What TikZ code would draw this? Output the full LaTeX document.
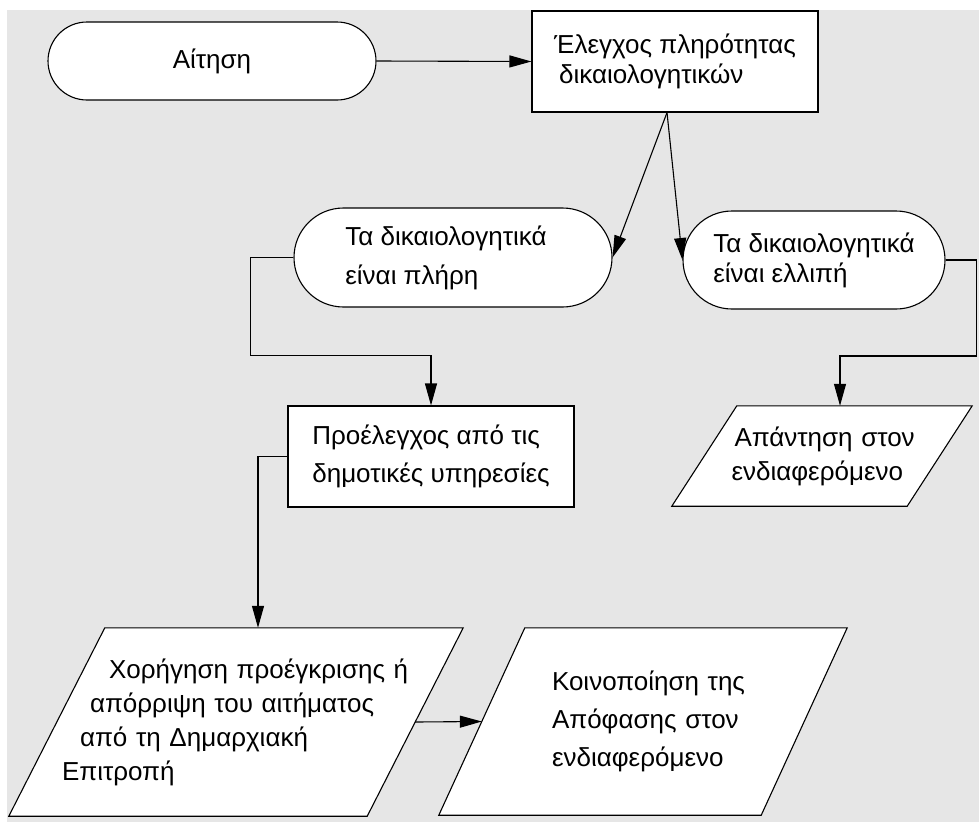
\documentclass[tikz,border=0pt]{standalone}
\usepackage{fontspec}
\setmainfont{Liberation Sans}
\usetikzlibrary{positioning, arrows.meta, shapes.misc, backgrounds}
\definecolor{panelbg}{HTML}{E6E6E6}

\begin{document}
\begin{tikzpicture}[
    x=1pt, y=-1pt,
    terminal/.style={
        rounded rectangle, draw=black, fill=white, line width=1.1pt,
        inner sep=0pt, align=left, font=\fontsize{26}{#1}\selectfont
    },
    procbox/.style={
        rectangle, draw=black, fill=white, line width=1.1pt,
        minimum width=286pt, minimum height=101pt, inner sep=0pt,
        align=left, font=\fontsize{26}{#1}\selectfont
    },
    iotext/.style={
        rectangle, inner sep=0pt,
        align=left, font=\fontsize{26}{#1}\selectfont
    },
    ioshape/.style={
        draw=black, fill=white, line width=1.1pt, line join=miter
    },
    flow/.style={
        -{Triangle[length=22pt, width=12pt]}, line width=1.1pt
    }
]

% Page and grey panel
\useasboundingbox (0,0) rectangle (979,822);
\begin{scope}[on background layer]
    \fill[panelbg] (7,10) rectangle (979,822);
\end{scope}

% -- Top row: request and completeness check --
\node[terminal=30, minimum width=328pt, minimum height=78pt] (aitisi) at (212,61) {Αίτηση};
\node[procbox=30] (elegxos) at (675,61.5) {Έλεγχος πληρότητας\\\hspace*{5pt}δικαιολογητικών};

% -- Outcomes of the check --
\node[terminal=39, minimum width=318pt, minimum height=99pt] (plires) at (453,257.5)
    {Τα δικαιολογητικά\hspace*{14pt}\\είναι πλήρη};
\node[terminal=30, minimum width=262pt, minimum height=98pt] (elliph) at (814,260)
    {Τα δικαιολογητικά\\είναι ελλιπή};

% -- Middle row --
\node[procbox=38] (proelegxos) at (431,456.5) {Προέλεγχος από τις\\δημοτικές υπηρεσίες};
% parallelogram body 235 wide, slant 65
\node[iotext=34, minimum width=235pt, minimum height=100pt, text width=235pt] (apantisi) at (822,456)
    {\hspace*{30pt}Απάντηση στον\\\hspace*{27pt}ενδιαφερόμενο};

% -- Bottom row: decision and notification --
% parallelogram body 358 wide, slant 96
\node[iotext=34, minimum width=358pt, minimum height=188pt, text width=358pt] (xorigisi) at (236,722)
    {\hspace*{52pt}Χορήγηση προέγκρισης ή\\\hspace*{33pt}απόρριψη του αιτήματος\\\hspace*{23pt}από τη Δημαρχιακή\\\hspace*{5pt}Επιτροπή};
% parallelogram body 322 wide, slant 86
\node[iotext=38, minimum width=322pt, minimum height=187pt, text width=322pt] (koinop) at (643,721.5)
    {\hspace*{70pt}Κοινοποίηση της\\\hspace*{70pt}Απόφασης στον\\\hspace*{70pt}ενδιαφερόμενο};

% Parallelogram outlines, behind their texts
\begin{scope}[on background layer]
    \draw[ioshape] ([xshift=-32.5pt]apantisi.south west) -- ([xshift=32.5pt]apantisi.north west)
        -- ([xshift=32.5pt]apantisi.north east) -- ([xshift=-32.5pt]apantisi.south east) -- cycle;
    \draw[ioshape] ([xshift=-48pt]xorigisi.south west) -- ([xshift=48pt]xorigisi.north west)
        -- ([xshift=48pt]xorigisi.north east) -- ([xshift=-48pt]xorigisi.south east) -- cycle;
    \draw[ioshape] ([xshift=-43pt]koinop.south west) -- ([xshift=43pt]koinop.north west)
        -- ([xshift=43pt]koinop.north east) -- ([xshift=-43pt]koinop.south east) -- cycle;
\end{scope}

% Connectors
\draw[flow] (aitisi.east) -- (elegxos.west);
\draw[flow] ([xshift=-8pt]elegxos.south) -- (plires.east);
\draw[flow] ([xshift=-8pt]elegxos.south) -- (elliph.west);
\draw[flow] (plires.west) -- ++(-43,0) -- ++(0,98) -| (proelegxos.north);
\draw[flow] (elliph.east) -- ++(31,0) -- ++(0,96) -| ([xshift=18pt]apantisi.north);
\draw[flow] (proelegxos.west) -| ([xshift=22pt]xorigisi.north);
\draw[flow] (xorigisi.east) -- (koinop.west);

\end{tikzpicture}
\end{document}
